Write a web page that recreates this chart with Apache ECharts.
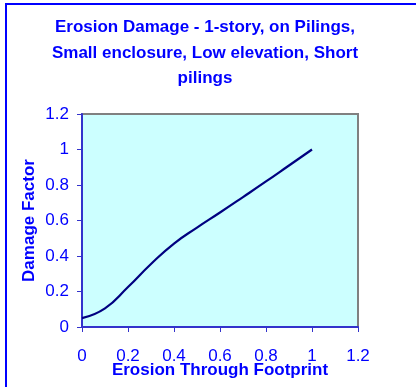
<!DOCTYPE html>
<html><head><meta charset="utf-8">
<script src="https://cdn.jsdelivr.net/npm/echarts@6/dist/echarts.min.js"></script>
<style>html,body{margin:0;padding:0;background:#fff}#c{width:416px;height:387px}</style>
</head><body><div id="c"></div>
<script>
const titleText = 'Erosion Damage - 1-story, on Pilings,\nSmall enclosure, Low elevation, Short\npilings';
const xName = 'Erosion Through Footprint';
const yName = 'Damage Factor';
const erosion = [0, 0.1, 0.2, 0.3, 0.4, 0.5, 0.6, 0.7, 0.8, 0.9, 1.0];
const damage = [0.05, 0.105, 0.225, 0.355, 0.47, 0.56, 0.645, 0.732, 0.82, 0.91, 1.0];

const chart = echarts.init(document.getElementById('c'), null, {renderer: 'canvas'});
const font = '"Liberation Sans", Arial, sans-serif';
chart.setOption({
  animation: false,
  graphic: [{type: 'rect', shape: {x: 6, y: 4, width: 600, height: 600}, style: {fill: 'none', stroke: '#0000ff', lineWidth: 2}, z: 100}],
  title: {
    text: titleText, left: 200, top: 10, textAlign: 'center',
    textStyle: {color: '#0000ff', fontFamily: font, fontWeight: 'bold', fontSize: 17, lineHeight: 25.5}
  },
  grid: {left: 82, right: 58, top: 114, bottom: 60, outerBoundsMode: 'none', containLabel: false,
    show: true, backgroundColor: '#ccffff', borderColor: '#808080', borderWidth: 2},
  xAxis: {
    type: 'value', min: 0, max: 1.2, interval: 0.2,
    name: xName, nameLocation: 'middle', nameGap: 35, nameMoveOverlap: false,
    nameTextStyle: {color: '#0000ff', fontFamily: font, fontWeight: 'bold', fontSize: 17},
    axisLine: {show: true, onZero: false, lineStyle: {color: '#3333cc', width: 2}},
    axisTick: {show: true, length: 5, lineStyle: {color: '#3333cc', width: 1}},
    axisLabel: {color: '#0000ff', fontFamily: font, fontSize: 17, margin: 21, formatter: v => String(+v.toFixed(1))},
    splitLine: {show: false}
  },
  yAxis: {
    type: 'value', min: 0, max: 1.2, interval: 0.2,
    name: yName, nameLocation: 'middle', nameGap: 44, nameMoveOverlap: false,
    nameTextStyle: {color: '#0000ff', fontFamily: font, fontWeight: 'bold', fontSize: 17},
    axisLine: {show: true, onZero: false, lineStyle: {color: '#3333cc', width: 2}},
    axisTick: {show: true, length: 5, lineStyle: {color: '#3333cc', width: 1}},
    axisLabel: {color: '#0000ff', fontFamily: font, fontSize: 17, margin: 13, formatter: v => String(+v.toFixed(1))},
    splitLine: {show: false}
  },
  series: [{
    type: 'line', data: erosion.map((x, i) => [x, damage[i]]),
    smooth: 0.5, showSymbol: false, symbol: 'none',
    lineStyle: {color: '#000080', width: 2.2}
  }]
});
</script></body></html>
